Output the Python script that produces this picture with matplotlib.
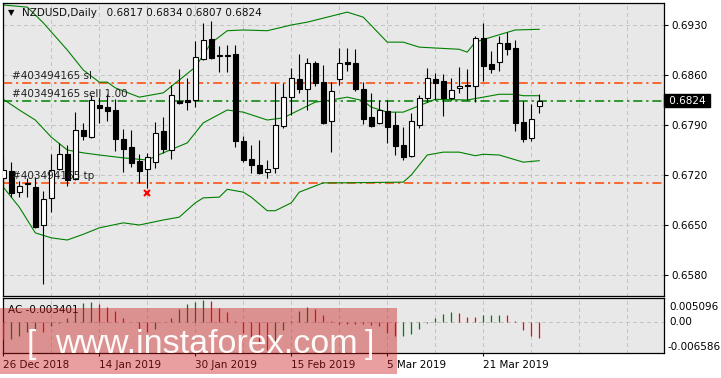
import numpy as np
import matplotlib
matplotlib.use('Agg')
import matplotlib.pyplot as plt
from matplotlib import font_manager
from matplotlib.patches import Rectangle
from matplotlib.transforms import blended_transform_factory as blend

plt.rcParams['font.family'] = ['DejaVu Sans']
plt.rcParams['font.size'] = 7.5

# NZDUSD daily, 26 Dec 2018 .. 1 Apr 2019
opens = [0.6716, 0.6726, 0.6696, 0.6709, 0.6703, 0.6650, 0.6688, 0.6728, 0.6749, 0.6714,
         0.6783, 0.6773, 0.6818, 0.6815, 0.6811, 0.6770, 0.6759, 0.6740, 0.6728, 0.6738,
         0.6782, 0.6755, 0.6824, 0.6825, 0.6825, 0.6882, 0.6910, 0.6888, 0.6888, 0.6889,
         0.6768, 0.6742, 0.6734, 0.6724, 0.6730, 0.6789, 0.6829, 0.6854, 0.6840, 0.6877,
         0.6850, 0.6796, 0.6854, 0.6878, 0.6877, 0.6840, 0.6801, 0.6793, 0.6810, 0.6790,
         0.6762, 0.6747, 0.6790, 0.6828, 0.6854, 0.6852, 0.6828, 0.6842, 0.6846, 0.6845,
         0.6912, 0.6875, 0.6878, 0.6905, 0.6898, 0.6794, 0.6772, 0.6817]
highs = [0.6744, 0.6738, 0.6712, 0.6716, 0.6717, 0.6698, 0.6749, 0.6765, 0.6762, 0.6808,
         0.6793, 0.6832, 0.6829, 0.6833, 0.6826, 0.6784, 0.6783, 0.6749, 0.6751, 0.6794,
         0.6801, 0.6846, 0.6868, 0.6856, 0.6908, 0.6933, 0.6936, 0.6901, 0.6902, 0.6902,
         0.6775, 0.6762, 0.6769, 0.6741, 0.6849, 0.6849, 0.6870, 0.6889, 0.6884, 0.6880,
         0.6874, 0.6850, 0.6898, 0.6898, 0.6896, 0.6850, 0.6835, 0.6825, 0.6825, 0.6808,
         0.6787, 0.6807, 0.6832, 0.6870, 0.6863, 0.6861, 0.6856, 0.6871, 0.6868, 0.6914,
         0.6933, 0.6894, 0.6915, 0.6920, 0.6909, 0.6824, 0.6819, 0.6834]
lows = [0.6702, 0.6689, 0.6689, 0.6689, 0.6646, 0.6567, 0.6668, 0.6727, 0.6705, 0.6713,
        0.6769, 0.6772, 0.6793, 0.6796, 0.6754, 0.6724, 0.6731, 0.6709, 0.6702, 0.6730,
        0.6751, 0.6742, 0.6820, 0.6811, 0.6815, 0.6881, 0.6882, 0.6864, 0.6864, 0.6759,
        0.6738, 0.6723, 0.6722, 0.6716, 0.6723, 0.6786, 0.6804, 0.6835, 0.6811, 0.6845,
        0.6792, 0.6752, 0.6846, 0.6866, 0.6838, 0.6791, 0.6787, 0.6791, 0.6765, 0.6748,
        0.6741, 0.6745, 0.6786, 0.6822, 0.6825, 0.6803, 0.6825, 0.6835, 0.6825, 0.6822,
        0.6852, 0.6863, 0.6866, 0.6888, 0.6782, 0.6766, 0.6768, 0.6807]
closes = [0.6727, 0.6695, 0.6705, 0.6707, 0.6647, 0.6686, 0.6727, 0.6749, 0.6713, 0.6783,
          0.6775, 0.6825, 0.6814, 0.6810, 0.6770, 0.6756, 0.6737, 0.6726, 0.6745, 0.6779,
          0.6756, 0.6832, 0.6821, 0.6822, 0.6885, 0.6909, 0.6884, 0.6886, 0.6887, 0.6768,
          0.6741, 0.6734, 0.6723, 0.6728, 0.6790, 0.6829, 0.6856, 0.6840, 0.6877, 0.6849,
          0.6793, 0.6838, 0.6877, 0.6876, 0.6840, 0.6798, 0.6789, 0.6811, 0.6787, 0.6761,
          0.6745, 0.6796, 0.6828, 0.6856, 0.6849, 0.6828, 0.6839, 0.6845, 0.6844, 0.6912,
          0.6873, 0.6868, 0.6905, 0.6896, 0.6793, 0.6770, 0.6798, 0.6824]

# bollinger bands (bar index, price)
bb_up_bars = [0, 3, 5, 8, 10, 12, 13, 14, 17, 18, 20, 22, 24, 26, 28, 30, 33, 36, 38, 43,
              45, 48, 50, 52, 57, 58, 59, 61, 64, 67]
bb_up = [0.6958, 0.6955, 0.6933, 0.6895, 0.6867, 0.6850, 0.6850, 0.6842, 0.6829, 0.6831,
         0.6835, 0.6853, 0.6871, 0.6905, 0.6922, 0.6923, 0.6922, 0.6930, 0.6934, 0.6948,
         0.6941, 0.6906, 0.6906, 0.6899, 0.6896, 0.6892, 0.6906, 0.6913, 0.6923, 0.6924]
bb_mid_bars = [0, 2, 4, 6, 8, 10, 12, 15, 18, 20, 23, 25, 28, 30, 33, 35, 37, 39, 41, 43,
               45, 46, 48, 50, 52, 54, 58, 60, 62, 64, 65, 67]
bb_mid = [0.6826, 0.6811, 0.6797, 0.6773, 0.6755, 0.6751, 0.6748, 0.6744, 0.6741, 0.6751,
          0.6765, 0.6793, 0.6811, 0.6808, 0.6797, 0.6800, 0.6811, 0.6822, 0.6825, 0.6829,
          0.6824, 0.6815, 0.6808, 0.6808, 0.6817, 0.6826, 0.6825, 0.6829, 0.6833, 0.6833,
          0.6831, 0.6831]
bb_low_bars = [0, 2, 4, 6, 8, 10, 12, 15, 17, 20, 22, 24, 25, 27, 28, 30, 31, 33, 34, 36,
               37, 40, 42, 50, 51, 53, 55, 57, 59, 60, 62, 65, 67]
bb_low = [0.6703, 0.6675, 0.6639, 0.6632, 0.6629, 0.6637, 0.6646, 0.6653, 0.6650, 0.6657,
          0.6661, 0.6681, 0.6688, 0.6689, 0.6700, 0.6696, 0.6689, 0.6670, 0.6670, 0.6681,
          0.6696, 0.6709, 0.6709, 0.6710, 0.6720, 0.6748, 0.6752, 0.6752, 0.6747, 0.6749,
          0.6748, 0.6738, 0.6740]

# accelerator oscillator, first value belongs to the bar before the chart
ac = [-0.0030, -0.00363, -0.00348, -0.00296, -0.00207, -0.00163, -0.00207, -0.00089, -0.00015, 0.00089, 0.00222,
      0.00407, 0.00429, 0.00385, 0.00333, 0.00237, 0.00089, 0.00015, -0.00148, -0.00207, -0.00133,
      0.00007, 0.00089, 0.00281, 0.00385, 0.00429, 0.00466, 0.00451, 0.00296, 0.00222, 0.00037,
      -0.00222, -0.00355, -0.00459, -0.00592, -0.00481, -0.00163, 0.00037, 0.00237, 0.00333, 0.00281,
      0.00148, 0.00022, -0.00030, -0.00035, -0.00040, -0.00045, -0.00050, -0.00089, -0.00222, -0.00296,
      -0.00289, -0.00244, -0.00133, -0.00007, 0.00089, 0.00185, 0.00222, 0.00207, 0.00111, 0.00104,
      0.00148, 0.00155, 0.00163, 0.00155, 0.00022, -0.00163, -0.00281, -0.003401]
ac_max, ac_min = 0.005096, -0.006586

order_levels = [0.6849, 0.6824, 0.6709]
order_labels = ['#403494165 sl', '#403494165 sell 1.00', '#403494165 tp']
close_mark = (18, 0.6695)

price_ticks = [0.6580, 0.6650, 0.6720, 0.6790, 0.6860, 0.6930]
date_bars = [0, 12, 24, 36, 48, 60]
date_labels = ['26 Dec 2018', '14 Jan 2019', '30 Jan 2019', '15 Feb 2019', '5 Mar 2019', '21 Mar 2019']
grid_bars = list(range(6, 83, 6))
last_price = 0.6824

BG = '#e8e8e8'
GRID = '#c4c4c4'
GREEN = '#008000'
ORANGE = '#ff4500'

W, H = 721, 378
fig = plt.figure(figsize=(W / 100, H / 100), dpi=100)
fig.patch.set_facecolor('white')

ax = fig.add_axes([2.5 / W, (H - 296) / H, 661.5 / W, 293 / H])
ax2 = fig.add_axes([2.5 / W, (H - 353.3) / H, 661.5 / W, 55 / H])

xlim = (-0.1, 82.6)
for a in (ax, ax2):
    a.set_facecolor(BG)
    a.set_xlim(*xlim)
    for s in a.spines.values():
        s.set_color('black')
        s.set_linewidth(0.9)
    for g in grid_bars:
        a.axvline(g, color=GRID, lw=0.75, ls=(0, (3, 3)), zorder=0, antialiased=False)

# --- main price chart ---
ax.set_ylim(0.65506, 0.69608)
for p in price_ticks:
    ax.axhline(p, color=GRID, lw=0.75, ls=(0, (3, 3)), zorder=0, antialiased=False)

x = np.arange(len(opens))
o = np.array(opens); c = np.array(closes)
ax.vlines(x, lows, highs, color='black', lw=0.8, zorder=3)
bull = c >= o
ax.bar(x, np.abs(c - o), bottom=np.minimum(o, c), width=0.6,
       color=np.where(bull, 'white', 'black'), edgecolor='black', linewidth=0.8, zorder=4)

ax.plot(bb_up_bars, bb_up, color=GREEN, lw=0.8, zorder=2)
ax.plot(bb_mid_bars, bb_mid, color=GREEN, lw=0.8, zorder=2)
ax.plot(bb_low_bars, bb_low, color=GREEN, lw=0.8, zorder=2)

line_colors = [ORANGE, GREEN, ORANGE]
tr = blend(ax.transAxes, ax.transData)
for lev, lab, col in zip(order_levels, order_labels, line_colors):
    ax.plot([0, 1], [lev, lev], transform=tr, color=col, lw=1.1,
            dashes=(6, 2.5, 1.5, 2.5), zorder=1)
    ax.text(0.0144, lev + 0.0009, lab, transform=tr, va='center', ha='left',
            color='#202020', fontsize=7.5, zorder=5)

ax.plot(*close_mark, marker='x', color='red', ms=4.5, mew=1.5, zorder=6)

ax.yaxis.tick_right()
ax.set_yticks(price_ticks)
ax.set_yticklabels(['%.4f' % p for p in price_ticks])
ax.tick_params(axis='y', length=3, width=0.8, pad=2.5, labelsize=7.5)
ax.set_xticks([])

ax.text(1.0025, last_price, ' %.4f ' % last_price, transform=tr, ha='left', va='center',
        color='white', fontsize=7.5,
        bbox=dict(boxstyle='square,pad=0.15', facecolor='black', edgecolor='black'))

ax.text(0.0136, 0.968, '▼', transform=ax.transAxes, ha='center', va='center', fontsize=6)
ax.text(0.0295, 0.966, 'NZDUSD,Daily   %.4f %.4f %.4f %.4f' % (opens[-1], highs[-1], lows[-1], closes[-1]),
        transform=ax.transAxes, ha='left', va='center', fontsize=7.5, color='#101010')

# --- AC panel ---
ax2.set_ylim(ac_min, ac_max)
ax2.axhline(0, color=GRID, lw=0.75, ls=(0, (3, 3)), zorder=0, antialiased=False)
acv = np.array(ac)
acx = np.arange(-1, len(opens))
ac_cols = [GREEN if d > 0 else 'red' for d in np.diff(acv)]
ax2.vlines(acx[1:], 0, acv[1:], colors=ac_cols, lw=0.9, zorder=3)
ax2.set_yticks([])
ax2.set_xticks(date_bars)
ax2.set_xticklabels(date_labels, ha='left')
ax2.tick_params(axis='x', length=2.5, width=0.8, pad=2.5, labelsize=7.5)
ax2.text(0.0083, 0.787, 'AC %.6f' % ac[-1], transform=ax2.transAxes, ha='left', va='center', fontsize=7.5)
tr2 = blend(ax2.transAxes, ax2.transData)
ax2.text(1.0085, 0.842, '%.6f' % ac_max, transform=ax2.transAxes, ha='left', va='center', fontsize=7.5)
ax2.text(1.0085, 0, '0.00', transform=tr2, ha='left', va='center', fontsize=7.5)
ax2.text(1.006, 0.115, '%.6f' % ac_min, transform=ax2.transAxes, ha='left', va='center', fontsize=7.5)

# --- watermark ---
wax = fig.add_axes([0, 0, 1, 1], zorder=10)
wax.set_xlim(0, W)
wax.set_ylim(H, 0)
wax.axis('off')
wax.patch.set_alpha(0)
wax.add_patch(Rectangle((0, 308), 397, 66, facecolor=(0.8, 0.1, 0.1, 0.42), edgecolor='none'))
names = {f.name for f in font_manager.fontManager.ttflist}
if 'Liberation Sans Narrow' in names:
    wm_font, wm_size = 'Liberation Sans Narrow', 29.5
else:
    wm_font, wm_size = 'Liberation Sans', 24.5
wax.text(27, 353, '[', color='white', fontsize=wm_size, family=wm_font, va='baseline', ha='left', alpha=0.95)
wax.text(55, 353, 'www.instaforex.com', color='white', fontsize=wm_size, family=wm_font,
         va='baseline', ha='left', alpha=0.95)
wax.text(365, 353, ']', color='white', fontsize=wm_size, family=wm_font, va='baseline', ha='left', alpha=0.95)

fig.savefig('out.png', dpi=100, facecolor='white')
